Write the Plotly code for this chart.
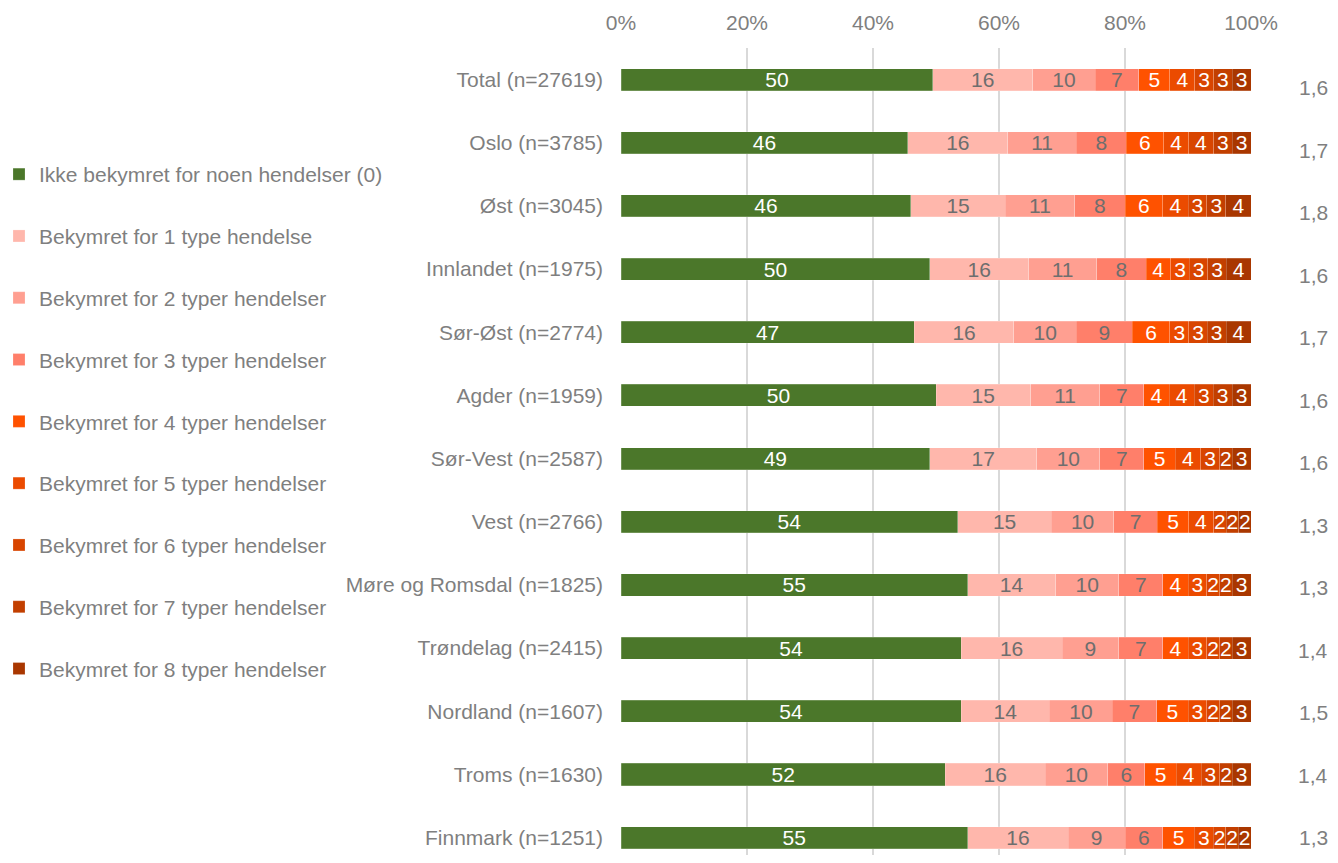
import plotly.graph_objects as go

categories = ["Total (n=27619)", "Oslo (n=3785)", "Øst (n=3045)", "Innlandet (n=1975)",
              "Sør-Øst (n=2774)", "Agder (n=1959)", "Sør-Vest (n=2587)", "Vest (n=2766)",
              "Møre og Romsdal (n=1825)", "Trøndelag (n=2415)", "Nordland (n=1607)",
              "Troms (n=1630)", "Finnmark (n=1251)"]

series_names = ["Ikke bekymret for noen hendelser (0)", "Bekymret for 1 type hendelse",
                "Bekymret for 2 typer hendelser", "Bekymret for 3 typer hendelser",
                "Bekymret for 4 typer hendelser", "Bekymret for 5 typer hendelser",
                "Bekymret for 6 typer hendelser", "Bekymret for 7 typer hendelser",
                "Bekymret for 8 typer hendelser"]

s0 = [50, 46, 46, 50, 47, 50, 49, 54, 55, 54, 54, 52, 55]
s1 = [16, 16, 15, 16, 16, 15, 17, 15, 14, 16, 14, 16, 16]
s2 = [10, 11, 11, 11, 10, 11, 10, 10, 10, 9, 10, 10, 9]
s3 = [7, 8, 8, 8, 9, 7, 7, 7, 7, 7, 7, 6, 6]
s4 = [5, 6, 6, 4, 6, 4, 5, 5, 4, 4, 5, 5, 5]
s5 = [4, 4, 4, 3, 3, 4, 4, 4, 3, 3, 3, 4, 3]
s6 = [3, 4, 3, 3, 3, 3, 3, 2, 2, 2, 2, 3, 2]
s7 = [3, 3, 3, 3, 3, 3, 2, 2, 2, 2, 2, 2, 2]
s8 = [3, 3, 4, 4, 4, 3, 3, 2, 3, 3, 3, 3, 2]
series_values = [s0, s1, s2, s3, s4, s5, s6, s7, s8]

averages = ["1,6", "1,7", "1,8", "1,6", "1,7", "1,6", "1,6", "1,3", "1,3", "1,4", "1,5", "1,4", "1,3"]

x_ticks = [0, 20, 40, 60, 80, 100]
x_tick_labels = ["0%", "20%", "40%", "60%", "80%", "100%"]

colors = ["#4B772A", "#FFB7AC", "#FF9F91", "#FF7F6A", "#FF5200",
          "#EB4B00", "#D84500", "#C23F00", "#A93700"]
text_colors = ["white", "#6E6E6E", "#6E6E6E", "#6E6E6E", "white",
               "white", "white", "white", "white"]

FONT = "Liberation Sans, Arial, sans-serif"
GREY = "#7F7F7F"

# the page body adds an 8px offset; figure coordinates are screen minus 8
W, H = 1322, 847
plot_left, plot_right = 613, 1243
plot_top, plot_bottom = 40, 847
pw = plot_right - plot_left
ph = plot_bottom - plot_top
row_step = 63.17
y_bottom = -0.5 + ph / row_step

fig = go.Figure()
for i, (name, vals) in enumerate(zip(series_names, series_values)):
    fig.add_trace(go.Bar(
        y=categories, x=vals, name=name, orientation="h",
        marker=dict(color=colors[i], line=dict(color="rgba(255,255,255,0.25)", width=0.8)),
        text=[str(v) for v in vals], textposition="inside", insidetextanchor="middle",
        textangle=0,
        textfont=dict(color=text_colors[i], size=21, family=FONT),
        legendgroup=f"g{i}", cliponaxis=False,
    ))

n = len(categories)
for k, (cat, avg) in enumerate(zip(categories, averages)):
    # the average column sits on its own slightly tighter row spacing
    fig.add_annotation(x=(1322 - plot_left) / pw, xref="paper", y=cat, yref="y",
                       text=avg, showarrow=False, xanchor="right",
                       yshift=-8 + 8 * k / (n - 1),
                       font=dict(size=21, color=GREY, family=FONT))

fig.update_layout(
    width=W, height=H,
    barmode="stack", barnorm="percent", bargap=0.65,
    plot_bgcolor="white", paper_bgcolor="white",
    margin=dict(l=plot_left, r=W - plot_right, t=plot_top, b=H - plot_bottom),
    font=dict(family=FONT, size=21, color=GREY),
    uniformtext=dict(mode="show", minsize=21),
    xaxis=dict(side="top", range=[0, 100], tickvals=x_ticks, ticktext=x_tick_labels,
               showgrid=True, gridcolor="#D9D9D9", gridwidth=1.5, zeroline=False,
               showline=False, ticks="", tickfont=dict(size=21, color=GREY),
               ticklabelstandoff=13),
    yaxis=dict(categoryorder="array", categoryarray=categories,
               range=[y_bottom, -0.5], showgrid=False, ticks="", ticklabelstandoff=17,
               tickfont=dict(size=21, color=GREY)),
    legend=dict(x=-plot_left / pw, xanchor="left",
                y=1 - (146 - plot_top) / ph, yanchor="top",
                traceorder="grouped", tracegroupgap=31.5, indentation=-9,
                font=dict(size=21, color=GREY, family=FONT),
                bgcolor="rgba(0,0,0,0)", itemwidth=30),
    showlegend=True,
)

fig.write_html("out.html")
